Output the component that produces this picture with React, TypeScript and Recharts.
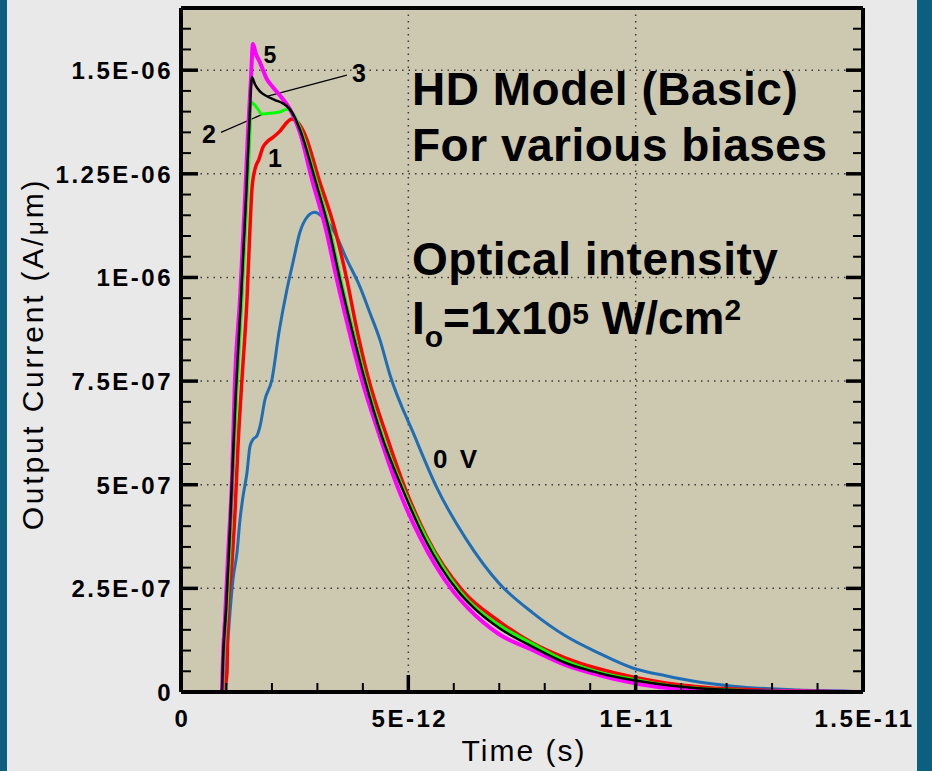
import React from 'react'
import { LineChart, Line, XAxis, YAxis, CartesianGrid, ReferenceLine } from 'recharts'

// time in ps (x 1E-12 s), current in uA/um (x 1E-06 A/um)
const time0V = [0.945, 0.967, 1.011, 1.077, 1.143, 1.231, 1.297, 1.363, 1.451, 1.516, 1.582, 1.67, 1.736, 1.846, 2.0, 2.154, 2.33, 2.462, 2.615, 2.769, 2.945, 3.121, 3.341, 3.648, 3.934, 4.154, 4.374, 4.593, 5.143, 5.626, 6.264, 6.989, 7.736, 8.462, 9.187, 9.934, 10.659, 11.385, 12.132, 13.582, 14.681, 15]
const current0V = [0, 0.029, 0.094, 0.191, 0.271, 0.336, 0.415, 0.471, 0.529, 0.592, 0.609, 0.618, 0.64, 0.705, 0.754, 0.867, 0.971, 1.036, 1.109, 1.145, 1.157, 1.145, 1.116, 1.043, 0.978, 0.915, 0.85, 0.766, 0.616, 0.493, 0.37, 0.263, 0.191, 0.135, 0.094, 0.058, 0.039, 0.024, 0.014, 0.005, 0.002, 0]

const time1 = [0.945, 1.011, 1.033, 1.121, 1.187, 1.253, 1.341, 1.451, 1.516, 1.56, 1.626, 1.714, 1.802, 1.912, 2.022, 2.176, 2.33, 2.44, 2.571, 2.725, 3.033, 3.385, 3.648, 3.868, 4.11, 4.527, 4.923, 5.407, 6.198, 6.989, 7.736, 8.462, 9.187, 9.934, 10.659, 12.132, 15]
const current1 = [0, 0.046, 0.191, 0.312, 0.432, 0.592, 0.754, 0.947, 1.116, 1.213, 1.261, 1.285, 1.314, 1.329, 1.338, 1.353, 1.374, 1.382, 1.374, 1.345, 1.237, 1.116, 0.995, 0.874, 0.761, 0.616, 0.493, 0.374, 0.244, 0.171, 0.118, 0.082, 0.056, 0.036, 0.022, 0.007, 0]

const time2 = [0.923, 0.945, 1.011, 1.077, 1.143, 1.231, 1.341, 1.451, 1.516, 1.538, 1.604, 1.692, 1.78, 1.956, 2.176, 2.33, 2.462, 2.615, 2.967, 3.275, 3.516, 3.78, 4.044, 4.44, 4.879, 5.385, 6.132, 6.484, 6.989, 7.736, 8.462, 9.187, 9.934, 10.659, 12.132, 15]
const current2 = [0, 0.077, 0.198, 0.343, 0.512, 0.729, 0.947, 1.188, 1.35, 1.423, 1.418, 1.406, 1.394, 1.396, 1.399, 1.406, 1.396, 1.362, 1.237, 1.116, 0.995, 0.874, 0.761, 0.616, 0.493, 0.374, 0.244, 0.203, 0.162, 0.116, 0.075, 0.048, 0.031, 0.017, 0.005, 0]

const time3 = [0.901, 0.923, 0.989, 1.055, 1.121, 1.209, 1.319, 1.429, 1.495, 1.56, 1.626, 1.736, 1.89, 2.066, 2.242, 2.396, 2.615, 2.945, 3.253, 3.495, 3.758, 4.022, 4.418, 4.857, 5.341, 6.088, 6.44, 6.989, 7.736, 8.462, 9.187, 9.934, 10.659, 12.132, 15]
const current3 = [0, 0.077, 0.198, 0.343, 0.512, 0.729, 0.947, 1.188, 1.35, 1.483, 1.466, 1.449, 1.437, 1.428, 1.42, 1.406, 1.357, 1.237, 1.116, 0.995, 0.874, 0.761, 0.616, 0.493, 0.374, 0.244, 0.203, 0.155, 0.109, 0.07, 0.046, 0.029, 0.017, 0.005, 0]

const time5 = [0.901, 0.923, 0.967, 1.033, 1.121, 1.187, 1.297, 1.407, 1.473, 1.538, 1.582, 1.648, 1.736, 1.89, 2.022, 2.242, 2.396, 2.615, 2.879, 3.187, 3.429, 3.692, 3.956, 4.374, 4.769, 5.253, 5.978, 6.308, 6.989, 7.736, 8.462, 9.187, 9.934, 10.659, 12.132, 15]
const current5 = [0, 0.085, 0.174, 0.326, 0.512, 0.754, 0.947, 1.188, 1.35, 1.478, 1.563, 1.539, 1.519, 1.478, 1.459, 1.43, 1.406, 1.35, 1.237, 1.116, 0.995, 0.874, 0.761, 0.616, 0.493, 0.374, 0.244, 0.203, 0.14, 0.101, 0.065, 0.041, 0.022, 0.01, 0.002, 0]

const xMajorValues = [0, 5, 10, 15]
const xMajorLabels = ['0', '5E-12', '1E-11', '1.5E-11']
const yMajorValues = [0, 0.25, 0.5, 0.75, 1, 1.25, 1.5]
const yMajorLabels = ['0', '2.5E-07', '5E-07', '7.5E-07', '1E-06', '1.25E-06', '1.5E-06']

const xTicks = Array.from({ length: 16 }, (_, k) => k)
const yTicks = Array.from({ length: 34 }, (_, k) => Math.round(k * 5) / 100)

const FONT = '"Liberation Sans", Arial, Helvetica, sans-serif'
const PLOT_BG = '#cdc8b0'

const series = (ts: number[], is: number[]) => ts.map((t, k) => ({ t, i: is[k] }))

const labelOf = (values: number[], labels: string[], v: number) => {
  const k = values.findIndex((m) => Math.abs(m - v) < 1e-6)
  return k >= 0 ? labels[k] : null
}

const LeftTick = (props: any) => {
  const { x, y, payload } = props
  const label = labelOf(yMajorValues, yMajorLabels, payload.value)
  const len = label ? 17 : 10
  return (
    <g>
      <line x1={x} y1={y} x2={x + len} y2={y} stroke="#000" strokeWidth={label ? 3.5 : 2} />
      {label && (
        <text x={x - 8} y={y + 9} textAnchor="end" fontFamily={FONT} fontWeight="bold" fontSize={24} letterSpacing={2.5} fill="#000">
          {label}
        </text>
      )}
    </g>
  )
}

const RightTick = (props: any) => {
  const { x, y, payload } = props
  const major = labelOf(yMajorValues, yMajorLabels, payload.value)
  return <line x1={x} y1={y} x2={x - (major ? 17 : 10)} y2={y} stroke="#000" strokeWidth={major ? 3.5 : 2} />
}

const BottomTick = (props: any) => {
  const { x, y, payload } = props
  const label = labelOf(xMajorValues, xMajorLabels, payload.value)
  return (
    <g>
      <line x1={x} y1={y} x2={x} y2={y - (label ? 17 : 9)} stroke="#000" strokeWidth={label ? 3.5 : 2} />
      {label && (
        <text x={x + 1.5} y={y + 35} textAnchor="middle" fontFamily={FONT} fontWeight="bold" fontSize={24} letterSpacing={2.5} fill="#000">
          {label}
        </text>
      )}
    </g>
  )
}

const TopTick = (props: any) => {
  const { x, y, payload } = props
  const major = labelOf(xMajorValues, xMajorLabels, payload.value)
  return <line x1={x} y1={y} x2={x} y2={y + (major ? 17 : 9)} stroke="#000" strokeWidth={major ? 3.5 : 2} />
}

export default function App() {
  const bold = { fontFamily: FONT, fontWeight: 'bold' as const, fill: '#000' }
  return (
    <div style={{ position: 'absolute', left: 0, top: 0, width: 932, height: 771, background: '#0b5f7f', overflow: 'hidden' }}>
      <div style={{ position: 'absolute', left: 7, top: 0, width: 910, height: 771, background: '#e9e9e9' }} />
      <div style={{ position: 'absolute', left: 0, top: 0 }}>
        <LineChart width={932} height={771} margin={{ top: 3, right: 59, bottom: 39, left: 81 }}>
          <CartesianGrid
            fill={PLOT_BG}
            stroke="#3a3a3a"
            strokeWidth={1.5}
            strokeDasharray="1.5 5"
            horizontalValues={[0.25, 0.5, 0.75, 1, 1.25, 1.5]}
            verticalValues={[5, 10]}
          />
          <XAxis
            dataKey="t"
            type="number"
            domain={[0, 15]}
            ticks={xTicks}
            interval={0}
            allowDataOverflow
            height={40}
            tickSize={0}
            tickMargin={0}
            tickLine={false}
            axisLine={{ stroke: '#000', strokeWidth: 4 }}
            tick={BottomTick}
          />
          <XAxis
            xAxisId="top"
            orientation="top"
            type="number"
            domain={[0, 15]}
            ticks={xTicks}
            interval={0}
            allowDataOverflow
            height={5}
            tickSize={0}
            tickMargin={0}
            tickLine={false}
            axisLine={{ stroke: '#000', strokeWidth: 4 }}
            tick={TopTick}
          />
          <YAxis
            type="number"
            domain={[0, 1.65]}
            ticks={yTicks}
            interval={0}
            allowDataOverflow
            width={100}
            tickSize={0}
            tickMargin={0}
            tickLine={false}
            axisLine={{ stroke: '#000', strokeWidth: 4 }}
            tick={LeftTick}
          />
          <YAxis
            yAxisId="right"
            orientation="right"
            type="number"
            domain={[0, 1.65]}
            ticks={yTicks}
            interval={0}
            allowDataOverflow
            width={10}
            tickSize={0}
            tickMargin={0}
            tickLine={false}
            axisLine={{ stroke: '#000', strokeWidth: 4 }}
            tick={RightTick}
          />
          <ReferenceLine segment={[{ x: 3.65, y: 1.488 }, { x: 1.89, y: 1.437 }]} stroke="#000" strokeWidth={1.2} />
          <ReferenceLine segment={[{ x: 0.88, y: 1.35 }, { x: 1.8, y: 1.394 }]} stroke="#000" strokeWidth={1.2} />
          <Line data={series(time0V, current0V)} dataKey="i" type="monotone" stroke="#1f6db4" strokeWidth={3} dot={false} isAnimationActive={false} />
          <Line data={series(time1, current1)} dataKey="i" type="monotone" stroke="#ff0000" strokeWidth={3.5} dot={false} isAnimationActive={false} />
          <Line data={series(time2, current2)} dataKey="i" type="monotone" stroke="#00ff00" strokeWidth={3} dot={false} isAnimationActive={false} />
          <Line data={series(time5, current5)} dataKey="i" type="monotone" stroke="#ff00ff" strokeWidth={4} dot={false} isAnimationActive={false} />
          <Line data={series(time3, current3)} dataKey="i" type="monotone" stroke="#000000" strokeWidth={2.5} dot={false} isAnimationActive={false} />
        </LineChart>
      </div>
      <svg width={932} height={771} style={{ position: 'absolute', left: 0, top: 0, pointerEvents: 'none' }}>
        <text x={412} y={105} fontSize={46} letterSpacing={0.5} {...bold}>HD Model (Basic)</text>
        <text x={412} y={161} fontSize={46} letterSpacing={0.5} {...bold}>For various biases</text>
        <text x={412} y={275} fontSize={46} letterSpacing={0.5} {...bold}>Optical intensity</text>
        <text x={412} y={334} fontSize={46} {...bold}>
          I<tspan fontSize={30} dy={13}>o</tspan>
          <tspan dy={-13}>=1x10</tspan>
          <tspan fontSize={30} dy={-10}>5</tspan>
          <tspan dy={10}> W/cm</tspan>
          <tspan fontSize={30} dy={-14}>2</tspan>
        </text>
        <text x={270} y={63} fontSize={23} textAnchor="middle" {...bold}>5</text>
        <text x={359} y={82} fontSize={25} textAnchor="middle" {...bold}>3</text>
        <text x={209} y={143} fontSize={25} textAnchor="middle" {...bold}>2</text>
        <text x={275} y={167} fontSize={25} textAnchor="middle" {...bold}>1</text>
        <text x={433} y={468} fontSize={26} letterSpacing={2.5} {...bold}>0 V</text>
        <text x={524} y={761} fontSize={30} textAnchor="middle" letterSpacing={2} fontFamily={FONT} fill="#000">Time (s)</text>
        <text transform="translate(43,354) rotate(-90)" fontSize={30} textAnchor="middle" letterSpacing={2.8} fontFamily={FONT} fill="#000">
          Output Current (A/<tspan fontSize={24}>μ</tspan>m)
        </text>
      </svg>
    </div>
  )
}
